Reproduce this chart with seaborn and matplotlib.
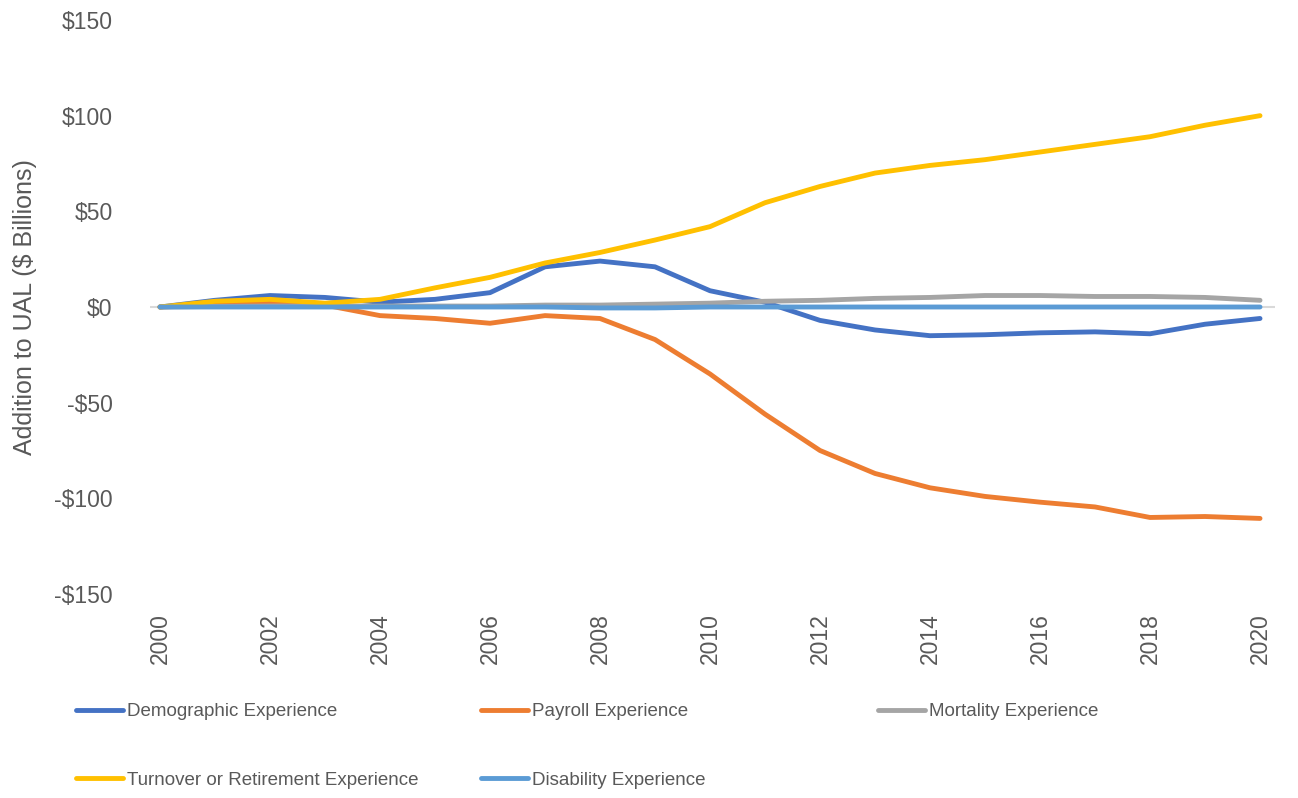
# %% UAL attribution chart
import pandas as pd
import numpy as np
import matplotlib
matplotlib.use('Agg')
import matplotlib.pyplot as plt
from matplotlib.lines import Line2D
import seaborn as sns

# %% Data ($ billions)
years = list(range(2000, 2021))
demographic = [0, 3.5, 6, 5, 2.5, 4, 7.5, 21, 24, 21, 8.5, 2.5, -7, -12, -15, -14.5, -13.5, -13, -14, -9, -6]
payroll = [0, 1, 2, 1, -4.5, -6, -8.5, -4.5, -6, -17, -35, -56, -75, -87, -94.5, -99, -102, -104.5, -110, -109.5, -110.5]
mortality = [0, 0.3, 0.5, 0.5, 0.5, 0.5, 0.5, 1, 1, 1.5, 2, 3, 3.5, 4.5, 5, 6, 6, 5.5, 5.5, 5, 3.5]
turnover = [0, 3, 4, 2, 4, 10, 15.5, 23, 28.5, 35, 42, 54.5, 63, 70, 74, 77, 81, 85, 89, 95, 100]
disability = [0, 0, 0, 0, 0, 0, 0, 0, -0.5, -0.5, 0, 0, 0, 0, 0, 0, 0, 0, 0, 0, 0]

series_names = ['Demographic Experience', 'Payroll Experience', 'Mortality Experience',
                'Turnover or Retirement Experience', 'Disability Experience']
colors = ['#4472C4', '#ED7D31', '#A5A5A5', '#FFC000', '#5B9BD5']

yticks = [-150, -100, -50, 0, 50, 100, 150]
ytick_labels = ['-$150', '-$100', '-$50', '$0', '$50', '$100', '$150']
xticks = list(range(2000, 2021, 2))

# %% Long-form table
values = [demographic, payroll, mortality, turnover, disability]
frames = []
for name, vals in zip(series_names, values):
    frames.append(pd.DataFrame({'Year': years, 'Value': vals, 'Series': name}))
df = pd.concat(frames)

# %% Plot
sns.set_style('white')
plt.rcParams['font.family'] = ['Liberation Sans', 'DejaVu Sans']
text_color = '#595959'

fig = plt.figure(figsize=(12.98, 7.98), dpi=100)
ax = fig.add_axes([150 / 1298, 1 - 594 / 798, 1125 / 1298, 574 / 798])

ax.axhline(0, color='#D9D9D9', lw=1.5, zorder=1)
palette = dict(zip(series_names, colors))
sns.lineplot(data=df, x='Year', y='Value', hue='Series', palette=palette,
             hue_order=series_names, linewidth=3.5, legend=False, ax=ax, zorder=3)

ax.set_xlim(2000 - 10 / 55.1, 2020 + 15 / 55.1)
ax.set_ylim(-150, 150)
ax.set_yticks(yticks)
ax.set_yticklabels(ytick_labels)
ax.set_xticks(xticks)
ax.set_xticklabels([str(y) for y in xticks], rotation=90)
ax.tick_params(axis='y', labelsize=16.5, colors=text_color, pad=27, length=0)
ax.tick_params(axis='x', labelsize=16.5, colors=text_color, pad=14, length=0)
ax.set_xlabel('')
ax.set_ylabel('Addition to UAL ($ Billions)', fontsize=18, color=text_color, labelpad=12)
for s in ax.spines.values():
    s.set_visible(False)

# %% Legend: three separate columns to get the Excel spacing
def handle(c):
    return Line2D([0], [0], color=c, lw=3.5, solid_capstyle='round')

cols = [
    ([0, 3], 76 / 1298),
    ([1, 4], 481 / 1298),
    ([2], 878 / 1298),
]
for idx, xpos in cols:
    fig.legend([handle(colors[i]) for i in idx], [series_names[i] for i in idx],
               loc='upper left', bbox_to_anchor=(xpos, 1 - 703 / 798),
               frameon=False, fontsize=13.5, labelcolor=text_color,
               handlelength=2.5, handletextpad=0.2, labelspacing=2.75,
               borderaxespad=0, borderpad=0)

fig.savefig('out.png', dpi=100)
